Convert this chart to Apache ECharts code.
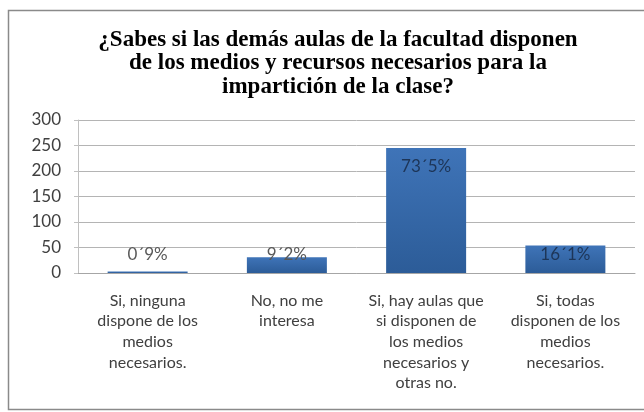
<!DOCTYPE html>
<html>
<head>
<meta charset="utf-8">
<script src="https://cdn.jsdelivr.net/npm/echarts@6/dist/echarts.min.js"></script>
<style>
  html, body { margin: 0; padding: 0; background: #ffffff; }
  #chart { width: 644px; height: 412px; }
</style>
</head>
<body>
<div id="chart"></div>
<script>
// Survey answers (categories), respondent counts and the share labels shown on each bar
const categories = [
  'Si, ninguna\ndispone de los\nmedios\nnecesarios.',
  'No, no me\ninteresa',
  'Si, hay aulas que\nsi disponen de\nlos medios\nnecesarios y\notras no.',
  'Si, todas\ndisponen de los\nmedios\nnecesarios.'
];
const counts = [3, 31, 245, 54];
const shareLabels = ['0´9%', '9´2%', '73´5%', '16´1%'];
const yTicks = { min: 0, max: 300, interval: 50 };

const chart = echarts.init(document.getElementById('chart'));

const sansFont = 'Lato, "Open Sans", sans-serif';

const data = counts.map((v, i) => {
  const tall = i === 2;
  return {
    value: v,
    label: {
      show: true,
      position: tall ? 'insideTop' : 'insideBottom',
      distance: tall ? 10 : 10,
      formatter: shareLabels[i],
      color: i >= 2 ? '#1d3557' : '#595959',
      fontFamily: sansFont,
      fontSize: 17
    }
  };
});

chart.setOption({
  animation: false,
  backgroundColor: '#ffffff',
  title: {
    text: '¿Sabes si las demás aulas de la facultad disponen\nde los medios y recursos necesarios para la\nimpartición de la clase?',
    left: 333,
    textAlign: 'center',
    top: 23,
    textStyle: {
      fontFamily: '"Liberation Serif", "DejaVu Serif", serif',
      fontWeight: 'bold',
      fontSize: 23,
      lineHeight: 23.5,
      color: '#000000'
    }
  },
  graphic: [{
    type: 'rect',
    shape: { x: 8.5, y: 10.5, width: 660, height: 399 },
    style: { fill: 'none', stroke: '#8a8a8a', lineWidth: 1.5 },
    silent: true,
    z: 10
  }],
  grid: { left: 78, right: 9, top: 120, bottom: 139 },
  xAxis: {
    type: 'category',
    data: categories,
    axisLine: { lineStyle: { color: '#a6a6a6' } },
    axisTick: { show: false },
    axisLabel: {
      interval: 0,
      color: '#404040',
      fontFamily: sansFont,
      fontSize: 16,
      lineHeight: 20.7,
      margin: 17
    }
  },
  yAxis: {
    type: 'value',
    min: yTicks.min,
    max: yTicks.max,
    interval: yTicks.interval,
    axisLine: { show: true, lineStyle: { color: '#c0c0c0' } },
    axisTick: { show: true, length: 4, lineStyle: { color: '#c0c0c0' } },
    splitLine: { lineStyle: { color: '#b4b4b4' } },
    axisLabel: {
      color: '#404040',
      fontFamily: sansFont,
      fontSize: 17,
      margin: 17
    }
  },
  series: [{
    type: 'bar',
    data: data,
    barWidth: 80,
    itemStyle: {
      color: new echarts.graphic.LinearGradient(0, 0, 0, 1, [
        { offset: 0, color: '#3f74b8' },
        { offset: 1, color: '#2c5c98' }
      ])
    }
  }]
});
</script>
</body>
</html>
